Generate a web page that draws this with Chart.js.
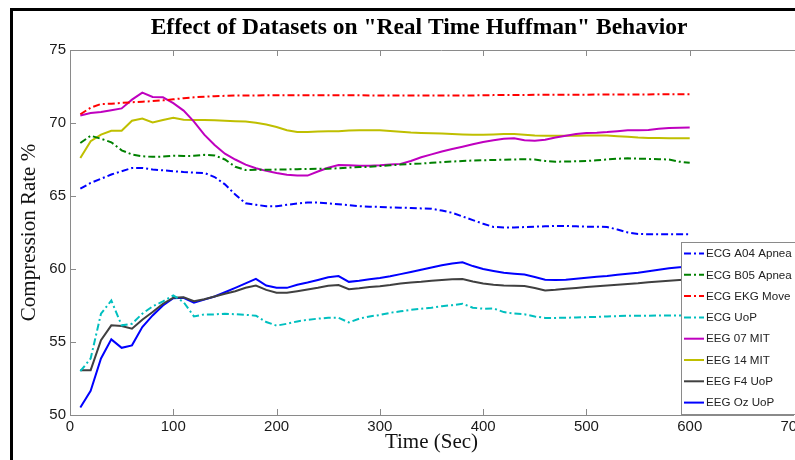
<!DOCTYPE html>
<html>
<head>
<meta charset="utf-8">
<script src="https://cdn.jsdelivr.net/npm/chart.js@4.4.1/dist/chart.umd.min.js"></script>
<style>
	html, body { margin: 0; padding: 0; background: #fff; overflow: hidden; }
	#wrap { width: 795px; height: 460px; overflow: hidden; }
</style>
</head>
<body>
<div id="wrap"><canvas id="chart" width="812" height="460"></canvas></div>
<script>
// time stamps (sec)
const times = [
	10, 20, 30, 40, 50, 60, 70, 80, 90, 100,
	110, 120, 130, 140, 150, 160, 170, 180, 190, 200,
	210, 220, 230, 240, 250, 260, 270, 280, 290, 300,
	310, 320, 330, 340, 350, 360, 370, 380, 390, 400,
	410, 420, 430, 440, 450, 460, 470, 480, 490, 500,
	510, 520, 530, 540, 550, 560, 570, 580, 590, 600,
];

// compression rate % per dataset
const ecgA04Apnea = [
	65.5, 65.9, 66.18, 66.47, 66.7, 66.92, 66.92, 66.82, 66.76, 66.7,
	66.64, 66.6, 66.58, 66.3, 65.8, 65.1, 64.5, 64.4, 64.3, 64.3,
	64.4, 64.48, 64.55, 64.55, 64.5, 64.43, 64.37, 64.3, 64.27, 64.25,
	64.22, 64.2, 64.18, 64.15, 64.13, 64.0, 63.85, 63.6, 63.35, 63.1,
	62.88, 62.85, 62.85, 62.87, 62.9, 62.92, 62.95, 62.95, 62.92, 62.9,
	62.9, 62.88, 62.7, 62.5, 62.4, 62.38, 62.38, 62.38, 62.38, 62.38,
];
const ecgB05Apnea = [
	68.63, 69.13, 68.92, 68.68, 68.13, 67.84, 67.72, 67.68, 67.7, 67.76,
	67.74, 67.75, 67.82, 67.78, 67.5, 67.0, 66.78, 66.8, 66.8, 66.81,
	66.82, 66.84, 66.85, 66.86, 66.87, 66.9, 66.95, 66.98, 67.0, 67.05,
	67.1, 67.15, 67.2, 67.22, 67.27, 67.32, 67.36, 67.4, 67.43, 67.45,
	67.47, 67.48, 67.5, 67.52, 67.5, 67.4, 67.35, 67.36, 67.38, 67.4,
	67.45, 67.5, 67.55, 67.58, 67.56, 67.54, 67.52, 67.5, 67.35, 67.27,
];
const ecgEkgMove = [
	70.6, 71.05, 71.3, 71.32, 71.38, 71.42, 71.46, 71.5, 71.55, 71.62,
	71.7, 71.76, 71.8, 71.84, 71.86, 71.88, 71.88, 71.89, 71.9, 71.9,
	71.9, 71.9, 71.9, 71.9, 71.9, 71.9, 71.9, 71.9, 71.89, 71.88,
	71.88, 71.88, 71.88, 71.88, 71.88, 71.88, 71.88, 71.88, 71.89, 71.9,
	71.91, 71.92, 71.92, 71.92, 71.93, 71.93, 71.93, 71.94, 71.94, 71.94,
	71.95, 71.95, 71.95, 71.96, 71.96, 71.96, 71.97, 71.97, 71.97, 71.97,
];
const ecgUoP = [
	53.0, 53.87, 56.94, 57.84, 56.14, 56.25, 56.94, 57.44, 57.78, 58.19,
	57.73, 56.75, 56.89, 56.89, 56.94, 56.9, 56.86, 56.8, 56.37, 56.12,
	56.25, 56.41, 56.52, 56.6, 56.66, 56.66, 56.34, 56.6, 56.75, 56.85,
	57.0, 57.1, 57.2, 57.28, 57.35, 57.45, 57.52, 57.62, 57.35, 57.28,
	57.3, 57.05, 56.95, 56.9, 56.75, 56.65, 56.65, 56.66, 56.68, 56.7,
	56.72, 56.75, 56.77, 56.8, 56.8, 56.8, 56.82, 56.82, 56.82, 56.85,
];
const eeg07Mit = [
	70.52, 70.68, 70.75, 70.88, 71.0, 71.6, 72.08, 71.78, 71.76, 71.36,
	70.85, 70.1, 69.2, 68.5, 67.9, 67.5, 67.15, 66.9, 66.72, 66.58,
	66.46, 66.4, 66.4, 66.68, 66.93, 67.12, 67.1, 67.08, 67.08, 67.1,
	67.15, 67.2, 67.4, 67.65, 67.85, 68.05, 68.22, 68.38, 68.55, 68.7,
	68.82, 68.92, 68.95, 68.82, 68.78, 68.85, 69.0, 69.12, 69.25, 69.32,
	69.34, 69.38, 69.44, 69.5, 69.5, 69.52, 69.6, 69.65, 69.68, 69.7,
];
const eeg14Mit = [
	67.6, 68.75, 69.2, 69.47, 69.47, 70.16, 70.3, 70.04, 70.2, 70.36,
	70.22, 70.2, 70.2, 70.18, 70.15, 70.12, 70.1, 70.02, 69.9, 69.73,
	69.5, 69.38, 69.38, 69.42, 69.43, 69.43, 69.48, 69.5, 69.5, 69.5,
	69.45, 69.4, 69.35, 69.32, 69.3, 69.28, 69.25, 69.22, 69.2, 69.2,
	69.22, 69.25, 69.25, 69.2, 69.15, 69.12, 69.12, 69.12, 69.13, 69.14,
	69.14, 69.15, 69.1, 69.05, 69.0, 68.97, 68.97, 68.96, 68.95, 68.95,
];
const eegF4UoP = [
	53.07, 53.07, 55.12, 56.14, 56.1, 55.91, 56.53, 57.05, 57.62, 58.03,
	58.06, 57.8, 57.93, 58.12, 58.3, 58.48, 58.71, 58.87, 58.57, 58.37,
	58.37, 58.48, 58.6, 58.71, 58.85, 58.9, 58.62, 58.68, 58.77, 58.82,
	58.9, 59.0, 59.08, 59.13, 59.2, 59.25, 59.3, 59.32, 59.15, 59.0,
	58.92, 58.87, 58.85, 58.83, 58.7, 58.53, 58.58, 58.65, 58.7, 58.76,
	58.82, 58.87, 58.92, 58.98, 59.03, 59.1, 59.15, 59.2, 59.25, 59.28,
];
const eegOzUoP = [
	50.52, 51.66, 53.87, 55.18, 54.6, 54.77, 56.02, 56.82, 57.5, 58.0,
	58.03, 57.69, 57.9, 58.12, 58.41, 58.71, 59.02, 59.32, 58.87, 58.71,
	58.71, 58.92, 59.07, 59.25, 59.43, 59.52, 59.12, 59.2, 59.3, 59.38,
	59.5, 59.65, 59.8, 59.95, 60.1, 60.25, 60.38, 60.46, 60.2, 60.0,
	59.87, 59.75, 59.68, 59.62, 59.45, 59.26, 59.25, 59.27, 59.33, 59.4,
	59.47, 59.52, 59.6, 59.68, 59.75, 59.85, 59.95, 60.05, 60.12, 60.15,
];

const seriesLabels = ['ECG A04 Apnea', 'ECG B05 Apnea', 'ECG EKG Move', 'ECG UoP', 'EEG 07 MIT', 'EEG 14 MIT', 'EEG F4 UoP', 'EEG Oz UoP'];
const seriesValues = [ecgA04Apnea, ecgB05Apnea, ecgEkgMove, ecgUoP, eeg07Mit, eeg14Mit, eegF4UoP, eegOzUoP];
const seriesColors = ['#0000ff', '#008000', '#ff0000', '#00bfbf', '#bf00bf', '#bfbf00', '#404040', '#0000ff'];
const dashDot = [7, 3, 2, 3];

const xTicks = [0, 100, 200, 300, 400, 500, 600, 700];
const yTicks = [50, 55, 60, 65, 70, 75];

const axisColor = '#8a8a8a';

// white page + black frame at top/left (screenshot edge)
let framePlugin = {
	id: 'frame',
	beforeDraw (chart) {
		let { ctx, width, height } = chart;
		ctx.save();
		ctx.fillStyle = '#fff';
		ctx.fillRect(0, 0, width, height);
		ctx.fillStyle = '#000';
		ctx.fillRect(10, 8, 3, height);
		ctx.fillRect(10, 8, width, 3);
		ctx.restore();
	},
};

// top box line + inward ticks (matlab style)
let boxTicksPlugin = {
	id: 'boxTicks',
	afterDatasetsDraw (chart) {
		let { ctx, chartArea, scales } = chart;
		ctx.save();
		ctx.strokeStyle = axisColor;
		ctx.lineWidth = 1;
		ctx.beginPath();
		ctx.moveTo(chartArea.left, chartArea.top + 0.5);
		ctx.lineTo(chartArea.right + 20, chartArea.top + 0.5);
		xTicks.slice(1, -1).forEach((t) => {
			let px = Math.round(scales.x.getPixelForValue(t)) + 0.5;
			ctx.moveTo(px, chartArea.bottom);
			ctx.lineTo(px, chartArea.bottom - 6);
			ctx.moveTo(px, chartArea.top);
			ctx.lineTo(px, chartArea.top + 6);
		});
		yTicks.slice(1, -1).forEach((t) => {
			let py = Math.round(scales.y.getPixelForValue(t)) + 0.5;
			ctx.moveTo(chartArea.left, py);
			ctx.lineTo(chartArea.left + 6, py);
		});
		ctx.stroke();
		ctx.restore();
	},
};

// chart title
let titlePlugin = {
	id: 'figTitle',
	afterDraw (chart) {
		let { ctx } = chart;
		ctx.save();
		ctx.fillStyle = '#000';
		ctx.font = 'bold 23.5px "Liberation Serif", "Times New Roman", serif';
		ctx.textAlign = 'center';
		ctx.textBaseline = 'middle';
		ctx.fillText('Effect of Datasets on "Real Time Huffman" Behavior', 419, 28);
		ctx.restore();
	},
};

// legend box inside lower right corner
let legendPlugin = {
	id: 'boxLegend',
	afterDraw (chart) {
		let { ctx } = chart;
		let datasets = chart.data.datasets;
		let boxLeft = 681.5;
		let boxTop = 242.5;
		let boxBottom = 414.5;
		let rowTop = 253.5;
		let rowStep = 21.3;
		ctx.save();
		ctx.fillStyle = '#fff';
		ctx.fillRect(boxLeft, boxTop, 140, boxBottom - boxTop);
		ctx.strokeStyle = axisColor;
		ctx.lineWidth = 1;
		ctx.strokeRect(boxLeft, boxTop, 140, boxBottom - boxTop);
		ctx.font = '11.6px "Liberation Sans", Arial, sans-serif';
		ctx.textBaseline = 'middle';
		ctx.textAlign = 'left';
		datasets.forEach((ds, idx) => {
			let y = rowTop + idx * rowStep;
			ctx.beginPath();
			ctx.setLineDash(ds.borderDash || []);
			ctx.strokeStyle = ds.borderColor;
			ctx.lineWidth = 2;
			ctx.moveTo(684, y);
			ctx.lineTo(704, y);
			ctx.stroke();
			ctx.setLineDash([]);
			ctx.fillStyle = '#222';
			ctx.fillText(ds.label, 706, y + 0.5);
		});
		ctx.restore();
	},
};

let datasets = seriesLabels.map((label, idx) => ({
	label,
	data: times.map((t, i) => ({ x: t, y: seriesValues[idx][i] })),
	borderColor: seriesColors[idx],
	backgroundColor: seriesColors[idx],
	borderWidth: 2,
	borderDash: label.startsWith('ECG') ? dashDot : [],
	pointRadius: 0,
	tension: 0,
	fill: false,
}));

let tickFont = { family: '"Liberation Sans", Arial, sans-serif', size: 15 };
let labelFont = { family: '"Liberation Serif", "Times New Roman", serif', size: 21 };

new Chart(document.getElementById('chart'), {
	type: 'line',
	data: { datasets },
	options: {
		responsive: false,
		animation: false,
		layout: { padding: { left: 13, top: 50, right: 19, bottom: 0 } },
		plugins: {
			legend: { display: false },
			title: { display: false },
			tooltip: { enabled: false },
		},
		scales: {
			x: {
				type: 'linear',
				min: 0,
				max: 700,
				afterBuildTicks: (scale) => { scale.ticks = xTicks.map(v => ({ value: v })); },
				afterFit: (scale) => { scale.height = 45; },
				ticks: { font: tickFont, color: '#1a1a1a', padding: 3, maxRotation: 0 },
				grid: { drawOnChartArea: false, drawTicks: false },
				border: { display: true, color: axisColor, width: 1 },
				title: { display: true, text: 'Time (Sec)', font: labelFont, color: '#111', padding: { top: 0, bottom: 5 } },
			},
			y: {
				type: 'linear',
				min: 50,
				max: 75,
				afterBuildTicks: (scale) => { scale.ticks = yTicks.map(v => ({ value: v })); },
				afterFit: (scale) => { scale.width = 57; },
				ticks: { font: tickFont, color: '#1a1a1a', padding: 4 },
				grid: { drawOnChartArea: false, drawTicks: false },
				border: { display: true, color: axisColor, width: 1 },
				title: { display: true, text: 'Compression Rate %', font: labelFont, color: '#111', padding: { top: 4, bottom: 0 } },
			},
		},
	},
	plugins: [framePlugin, boxTicksPlugin, legendPlugin, titlePlugin],
});
</script>
</body>
</html>
